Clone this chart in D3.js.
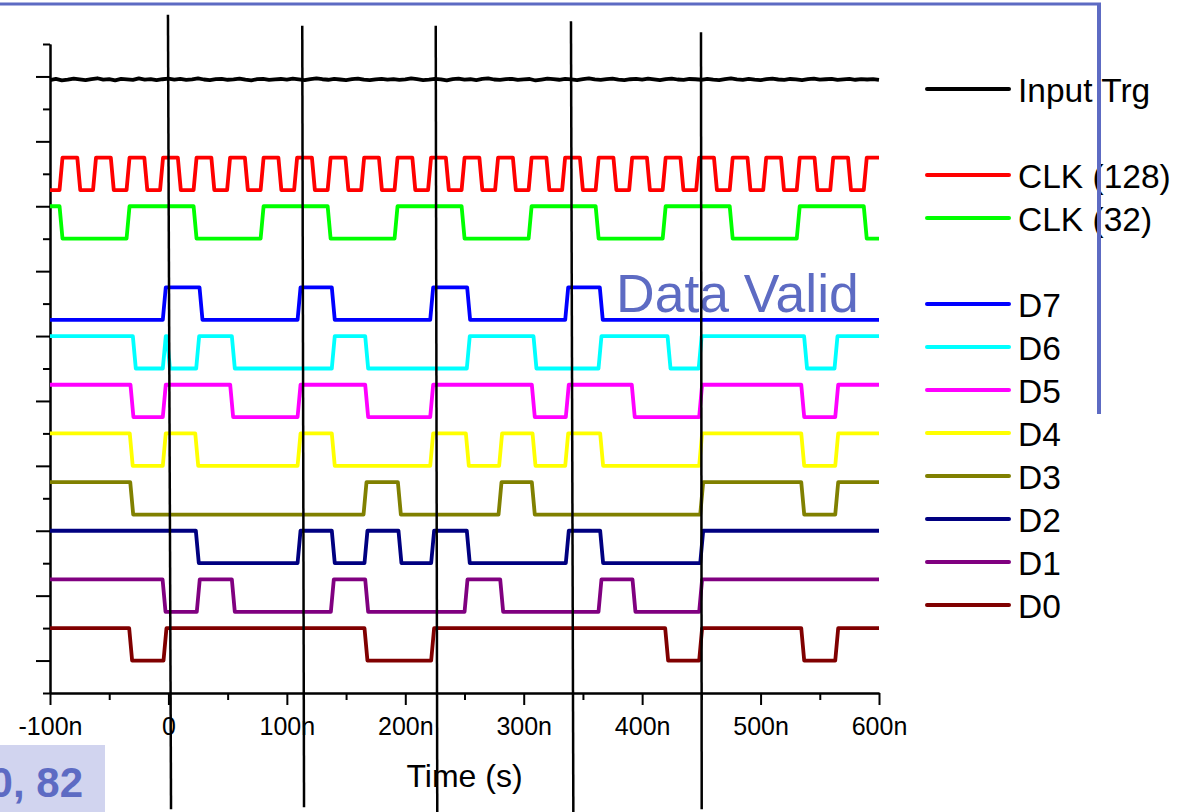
<!DOCTYPE html>
<html>
<head>
<meta charset="utf-8">
<script src="https://cdn.jsdelivr.net/npm/d3@7"></script>
<style>
  html, body { margin: 0; padding: 0; background: #ffffff; }
  svg { display: block; font-family: "Liberation Sans", Arial, sans-serif; }
</style>
</head>
<body>
<svg id="chart" width="1193" height="812"></svg>
<script>
// ---- Time axis (ns) ----
const timeTicks = [-100, 0, 100, 200, 300, 400, 500, 600];
const timeLabels = ["-100n", "0", "100n", "200n", "300n", "400n", "500n", "600n"];
const timeMinorTicks = [-50, 50, 150, 250, 350, 450, 550];

// ---- Vertical (offset) axis ----
const levelTicks = [0, 1, 2, 3, 4, 5, 6, 7, 8, 9];
const levelMinorTicks = [-0.5, 0.5, 1.5, 2.5, 3.5, 4.5, 5.5, 6.5, 7.5, 8.5, 9.5];

// ---- Input trigger trace, sampled every 5 ns from -100 ns ----
const trgStart = -100;
const trgStep = 5;
const trgValues = [
  8.945, 8.962, 8.940, 8.951, 8.968, 8.955, 8.944, 8.960, 8.972, 8.950,
  8.958, 8.941, 8.963, 8.955, 8.946, 8.969, 8.952, 8.960, 8.943, 8.957,
  8.965, 8.950, 8.961, 8.948, 8.956, 8.970, 8.953, 8.944, 8.959, 8.962,
  8.949, 8.955, 8.967, 8.951, 8.940, 8.958, 8.963, 8.947, 8.956, 8.961,
  8.952, 8.966, 8.954, 8.943, 8.960, 8.971, 8.957, 8.949, 8.962, 8.953,
  8.945, 8.959, 8.968, 8.950, 8.942, 8.956, 8.964, 8.951, 8.960, 8.947,
  8.955, 8.969, 8.958, 8.944, 8.952, 8.963, 8.956, 8.941, 8.960, 8.966,
  8.950, 8.957, 8.945, 8.962, 8.970, 8.953, 8.948, 8.959, 8.964, 8.946,
  8.955, 8.961, 8.938, 8.952, 8.967, 8.958, 8.949, 8.963, 8.956, 8.944,
  8.960, 8.971, 8.954, 8.947, 8.958, 8.965, 8.951, 8.943, 8.957, 8.962,
  8.950, 8.966, 8.955, 8.942, 8.959, 8.968, 8.953, 8.946, 8.961, 8.957,
  8.949, 8.964, 8.952, 8.945, 8.960, 8.970, 8.955, 8.948, 8.962, 8.951,
  8.944, 8.958, 8.966, 8.953, 8.947, 8.961, 8.956, 8.942, 8.959, 8.967,
  8.950, 8.957, 8.964, 8.946, 8.955, 8.962, 8.949, 8.958, 8.953, 8.960,
  8.948
];

// ---- Digital traces: toggle times (ns) ----
const edgesCLK128 = [
  -90.7, -75.7, -62.4, -47.4, -34.1, -19.1, -5.8, 9.2, 22.5, 37.5,
  50.8, 65.8, 79.1, 94.1, 107.4, 122.4, 135.7, 150.7, 164.0, 179.0,
  192.2, 207.2, 220.5, 235.5, 248.8, 263.8, 277.1, 292.1, 305.4, 320.4,
  333.7, 348.7, 362.0, 377.0, 390.3, 405.3, 418.6, 433.6, 446.9, 461.9,
  475.2, 490.2, 503.5, 518.5, 531.8, 546.8, 560.1, 575.1, 588.4
];
const edgesCLK32 = [-90.7, -34.1, 22.5, 79.1, 135.7, 192.2, 248.8, 305.4, 362.0, 418.6, 475.2, 531.8, 588.4];
const edgesD7 = [-3.5, 27.5, 110.3, 139.2, 222.3, 253.5, 336.3, 365.5];
const edgesD6 = [-28.8, -3.5, 0.0, 24.7, 54.8, 139.2, 167.4, 253.2, 309.5, 364.4, 422.7, 449.0, 538.0, 563.7];
const edgesD5 = [-30.8, -3.5, 53.4, 110.3, 167.4, 222.3, 308.1, 336.8, 392.5, 449.4, 535.6, 564.3];
const edgesD4 = [-31.4, -3.5, 23.9, 110.3, 139.2, 222.3, 252.4, 280.5, 308.7, 336.3, 365.8, 449.4, 535.6, 564.3];
const edgesD3 = [-31.0, 166.0, 195.0, 280.0, 308.1, 450.3, 535.6, 564.3];
const edgesD2 = [24.4, 110.3, 139.2, 166.8, 195.5, 223.1, 253.2, 336.8, 365.8, 450.3];
const edgesD1 = [-3.7, 25.2, 54.8, 138.4, 167.4, 251.3, 281.4, 364.4, 393.1, 449.4];
const edgesD0 = [-31.9, -2.9, 166.8, 223.1, 420.7, 449.4, 535.6, 564.3];

const digitalNames = ["CLK (128)", "CLK (32)", "D7", "D6", "D5", "D4", "D3", "D2", "D1", "D0"];
const digitalEdges = [edgesCLK128, edgesCLK32, edgesD7, edgesD6, edgesD5, edgesD4, edgesD3, edgesD2, edgesD1, edgesD0];
const digitalLow = [7.25, 6.5, 5.25, 4.5, 3.75, 3.0, 2.25, 1.5, 0.75, 0.0];
const digitalStartState = [0, 1, 0, 1, 1, 1, 1, 1, 1, 1];
const logicSwing = 0.5;

// ---- Legend ----
const legendNames = ["Input Trg", "CLK (128)", "CLK (32)", "D7", "D6", "D5", "D4", "D3", "D2", "D1", "D0"];
const legendSlots = [0, 2, 3, 5, 6, 7, 8, 9, 10, 11, 12];

// ---- Sampling-instant markers (time at top/bottom, offset at top/bottom) ----
const markerTimeTop = [-0.4, 113.0, 225.7, 339.9, 449.7];
const markerTimeBottom = [2.2, 114.5, 227.0, 341.9, 450.3];
const markerLevelTop = [9.95, 9.78, 9.78, 9.85, 9.68];
const markerLevelBottom = [-2.29, -2.26, -2.34, -2.34, -2.29];

// ---- Styles ----
const traceColors = {
  "Input Trg": "#000000",
  "CLK (128)": "#ff0000",
  "CLK (32)": "#00ff00",
  "D7": "#0000ff",
  "D6": "#00ffff",
  "D5": "#ff00ff",
  "D4": "#ffff00",
  "D3": "#808000",
  "D2": "#000080",
  "D1": "#800080",
  "D0": "#800000"
};
const accent = "#5d6bc3";
const edgeTime = 2.5; // ns for each logic transition

const svg = d3.select("#chart");
svg.append("rect").attr("width", 1193).attr("height", 812).attr("fill", "#ffffff");

const x = d3.scaleLinear().domain([-100, 600]).range([50, 879]);
const y = d3.scaleLinear().domain([-0.5, 9.5]).range([693, 44]);

// Axes
const axisStyle = g => {
  g.selectAll("path.domain").attr("stroke", "#000").attr("stroke-width", 2);
  g.selectAll(".tick line").attr("stroke", "#000").attr("stroke-width", 2);
};

svg.append("g").attr("transform", `translate(${x(-100)},0)`)
  .call(d3.axisLeft(y).tickValues(levelMinorTicks).tickSize(7).tickSizeOuter(0).tickFormat(""))
  .call(axisStyle);
svg.append("g").attr("transform", `translate(${x(-100)},0)`)
  .call(d3.axisLeft(y).tickValues(levelTicks).tickSize(14).tickSizeOuter(0).tickFormat(""))
  .call(axisStyle);

svg.append("g").attr("transform", `translate(0,${y(-0.5)})`)
  .call(d3.axisBottom(x).tickValues(timeMinorTicks).tickSize(7).tickSizeOuter(0).tickFormat(""))
  .call(axisStyle);
const xAxis = svg.append("g").attr("transform", `translate(0,${y(-0.5)})`)
  .call(d3.axisBottom(x).tickValues(timeTicks).tickSize(12).tickSizeOuter(0).tickPadding(12)
    .tickFormat((d, i) => timeLabels[i]))
  .call(axisStyle);
xAxis.selectAll(".tick text")
  .attr("font-family", "'Liberation Sans', Arial, sans-serif")
  .attr("font-size", 25).attr("fill", "#000");

svg.append("text")
  .attr("x", (x(-100) + x(600)) / 2).attr("y", 787)
  .attr("text-anchor", "middle")
  .attr("font-size", 32).attr("fill", "#000")
  .text("Time (s)");

// Traces
const line = d3.line().x(d => x(d[0])).y(d => y(d[1]));
const traces = svg.append("g")
  .attr("fill", "none").attr("stroke-linejoin", "round").attr("stroke-linecap", "butt");

// Input trigger
const trgPoints = trgValues.map((v, i) => [trgStart + i * trgStep, v]);
traces.append("path")
  .attr("d", line(trgPoints))
  .attr("stroke", traceColors["Input Trg"])
  .attr("stroke-width", 3.8);

// Logic traces
digitalNames.forEach((name, k) => {
  const low = digitalLow[k];
  let state = digitalStartState[k];
  const pts = [[-100, low + state * logicSwing]];
  digitalEdges[k].forEach(t => {
    pts.push([t - edgeTime / 2, low + state * logicSwing]);
    state = 1 - state;
    pts.push([t + edgeTime / 2, low + state * logicSwing]);
  });
  pts.push([600, low + state * logicSwing]);
  traces.append("path")
    .attr("d", line(pts))
    .attr("stroke", traceColors[name])
    .attr("stroke-width", 3.8);
});

// Legend
const legendY = d3.scaleLinear().domain([0, 12]).range([89, 605]);
const legend = svg.append("g");
legendNames.forEach((name, i) => {
  const ly = legendY(legendSlots[i]);
  legend.append("line")
    .attr("x1", 927).attr("x2", 1009).attr("y1", ly).attr("y2", ly)
    .attr("stroke", traceColors[name]).attr("stroke-width", 4).attr("stroke-linecap", "round");
  legend.append("text")
    .attr("x", 1018).attr("y", ly + 12.5)
    .attr("font-size", 33.5).attr("fill", "#000")
    .text(name);
});

// "Data Valid" annotation
svg.append("text")
  .attr("x", 616).attr("y", 312)
  .attr("font-size", 53.5).attr("fill", accent)
  .text("Data Valid");

// Frame
svg.append("line").attr("x1", -2).attr("x2", 1101).attr("y1", 4).attr("y2", 4)
  .attr("stroke", accent).attr("stroke-width", 3);
svg.append("line").attr("x1", 1099).attr("x2", 1099).attr("y1", 3).attr("y2", 414)
  .attr("stroke", accent).attr("stroke-width", 4);

// Sampling markers
markerTimeTop.forEach((t, i) => {
  svg.append("line")
    .attr("x1", x(t)).attr("y1", y(markerLevelTop[i]))
    .attr("x2", x(markerTimeBottom[i])).attr("y2", y(markerLevelBottom[i]))
    .attr("stroke", "#000").attr("stroke-width", 2.5);
});

// Coordinate readout box
svg.append("rect").attr("x", 0).attr("y", 745).attr("width", 105).attr("height", 67)
  .attr("fill", "#d1d4ef");
svg.append("text")
  .attr("x", 83).attr("y", 797)
  .attr("text-anchor", "end")
  .attr("font-size", 42).attr("font-weight", "bold").attr("fill", accent)
  .text("0, 82");
</script>
</body>
</html>
